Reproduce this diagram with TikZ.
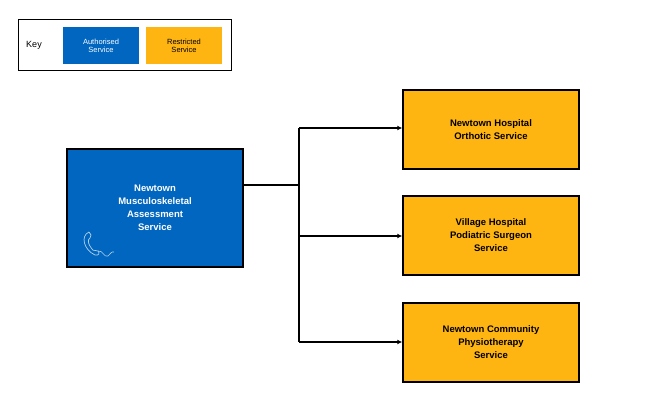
\documentclass[tikz,border=0pt]{standalone}
\usepackage{fontspec}
\setmainfont{Liberation Sans}
\usetikzlibrary{arrows.meta}
\definecolor{blu}{HTML}{0066C0}
\definecolor{org}{HTML}{FFB511}
\begin{document}
\begin{tikzpicture}[x=1pt,y=-1pt,
 box/.style={draw=black,line width=1.5pt,minimum width=176pt,minimum height=79pt,align=center,font=\bfseries\fontsize{9.5}{13}\selectfont,inner sep=0pt},
 keyb/.style={minimum width=76pt,minimum height=37pt,align=center,font=\fontsize{7.5}{8}\selectfont,inner sep=0pt},
 arr/.style={line width=1.5pt,-{Latex[length=5pt,width=5pt]}}]
\useasboundingbox (0,0) rectangle (671,411);
\node[draw=black,line width=1pt,minimum width=213pt,minimum height=51pt,inner sep=0pt] (key) at (124.5,45.5) {};
\node[font=\fontsize{9}{10}\selectfont] (keyt) at (34,45) {Key};
\node[keyb,fill=blu,text=white] (k1) at (101,45.5) {Authorised\\Service};
\node[keyb,fill=org] (k2) at (184,45.5) {Restricted\\Service};
\node[box,fill=blu,text=white,minimum height=118pt] (m) at (155,208) {Newtown\\Musculoskeletal\\Assessment\\Service};
\node[box,fill=org] (a) at (491,129.5) {Newtown Hospital\\Orthotic Service};
\node[box,fill=org] (b) at (491,235.5) {Village Hospital\\Podiatric Surgeon\\Service};
\node[box,fill=org] (c) at (491,342.5) {Newtown Community\\Physiotherapy\\Service};
\coordinate (j) at (299,185);
\draw[line width=1.5pt] (m.east |- j) -- (j);
\draw[line width=1.5pt] (299,128) -- (299,342);
\draw[arr] (299,128) -- (a.west |- 0,128);
\draw[arr] (299,236) -- (b.west |- 0,236);
\draw[arr] (299,342) -- (c.west |- 0,342);
\draw[white!70!blu,line width=0.7pt] (89,232) .. controls (80,236) and (84,250) .. (95,255) .. controls (99,256) and (100,253) .. (98,251) .. controls (96,249) and (93,252) .. (92,249) .. controls (88,244) and (87,240) .. (90,238) .. controls (92,236) and (91,234) .. (89,232);
\draw[white!70!blu,line width=0.6pt] (98,251) .. controls (103,250) and (104,258) .. (108,256) .. controls (110,254) and (112,251) .. (114,252);
\end{tikzpicture}
\end{document}
